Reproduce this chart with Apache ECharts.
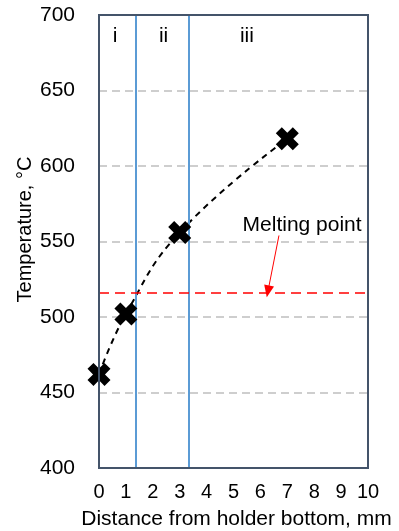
<!DOCTYPE html>
<html>
<head>
<meta charset="utf-8">
<script src="https://cdn.jsdelivr.net/npm/echarts@6/dist/echarts.min.js"></script>
<style>html,body{margin:0;padding:0;background:#fff;}#c{width:399px;height:531px;}</style>
</head>
<body>
<div id="c"></div>
<script>
// Data
var distance = [0, 1, 3, 7];
var temperature = [462, 502, 556, 618];
var meltingPoint = 516;
var zoneBoundaries = [1.35, 3.35];
var zoneLabels = ['i', 'ii', 'iii'];
var zoneLabelX = [0.6, 2.4, 5.5];
var zoneLabelY = 686;
var meltingLabel = 'Melting point';
var meltingLabelPos = [7.55, 561];
var arrowFrom = [6.69, 554];
var arrowTo = [6.28, 517];
var xTicks = [0, 1, 2, 3, 4, 5, 6, 7, 8, 9, 10];
var yTicks = [400, 450, 500, 550, 600, 650, 700];

var FONT = 'Liberation Sans, Arial, sans-serif';
var pts = distance.map(function (d, i) { return [d, temperature[i]]; });
var xMark = 'path://M0,2.6 L2.6,0 L5,2.4 L7.4,0 L10,2.6 L7.6,5 L10,7.4 L7.4,10 L5,7.6 L2.6,10 L0,7.4 L2.4,5 Z';

var chart = echarts.init(document.getElementById('c'), null, {renderer: 'canvas'});
chart.setOption({
  animation: false,
  grid: {left: 99, right: 31, top: 15, bottom: 63, outerBoundsMode: 'none', show: true,
    borderColor: '#44546a', borderWidth: 2, z: 10},
  xAxis: {
    type: 'value', min: xTicks[0], max: xTicks[xTicks.length - 1], interval: 1,
    name: 'Distance from holder bottom, mm', nameLocation: 'middle', nameGap: 41, nameMoveOverlap: false,
    nameTextStyle: {fontFamily: FONT, fontSize: 21, color: '#000', padding: [0, 0, 0, 6]},
    axisLine: {show: false}, axisTick: {show: false}, splitLine: {show: false},
    axisLabel: {fontFamily: FONT, fontSize: 20, color: '#000', margin: 14}
  },
  yAxis: {
    type: 'value', min: yTicks[0], max: yTicks[yTicks.length - 1], interval: 50,
    name: 'Temperature, °C', nameLocation: 'middle', nameGap: 64, nameRotate: 90, nameMoveOverlap: false,
    nameTextStyle: {fontFamily: FONT, fontSize: 20, color: '#000', padding: [0, 0, 0, 24]},
    axisLine: {show: false}, axisTick: {show: false},
    splitLine: {show: true, showMinLine: false, showMaxLine: false,
      lineStyle: {color: '#bfbfbf', width: 1.5, type: [8, 5]}},
    axisLabel: {fontFamily: FONT, fontSize: 21, color: '#000', margin: 24}
  },
  series: [
    {
      type: 'line', data: pts, smooth: 0.45, showSymbol: false, z: 3,
      lineStyle: {color: '#000', width: 2, type: [6, 5]},
      markLine: {
        silent: true, symbol: ['none', 'none'], label: {show: false},
        data: zoneBoundaries.map(function (b) {
          return {xAxis: b, lineStyle: {color: '#5b9bd5', width: 2, type: 'solid'}};
        }).concat([
          {yAxis: meltingPoint, lineStyle: {color: '#ff0000', width: 1.5, type: [10, 6]}},
          [{coord: arrowFrom, symbol: 'none', lineStyle: {color: '#ff0000', width: 1, type: 'solid'}},
           {coord: arrowTo, symbol: 'triangle', symbolSize: [10, 12]}]
        ])
      }
    },
    {
      type: 'scatter', data: pts, symbol: xMark, symbolSize: 23, z: 5,
      itemStyle: {color: '#000', opacity: 1}
    },
    {
      type: 'scatter', silent: true, symbolSize: 0, z: 4,
      itemStyle: {opacity: 1},
      data: zoneLabels.map(function (t, i) { return {value: [zoneLabelX[i], zoneLabelY], name: t}; })
        .concat([{value: meltingLabelPos, name: meltingLabel}]),
      label: {show: true, position: 'inside', formatter: '{b}', fontFamily: FONT, fontSize: 21, color: '#000', opacity: 1}
    }
  ]
});
</script>
</body>
</html>
